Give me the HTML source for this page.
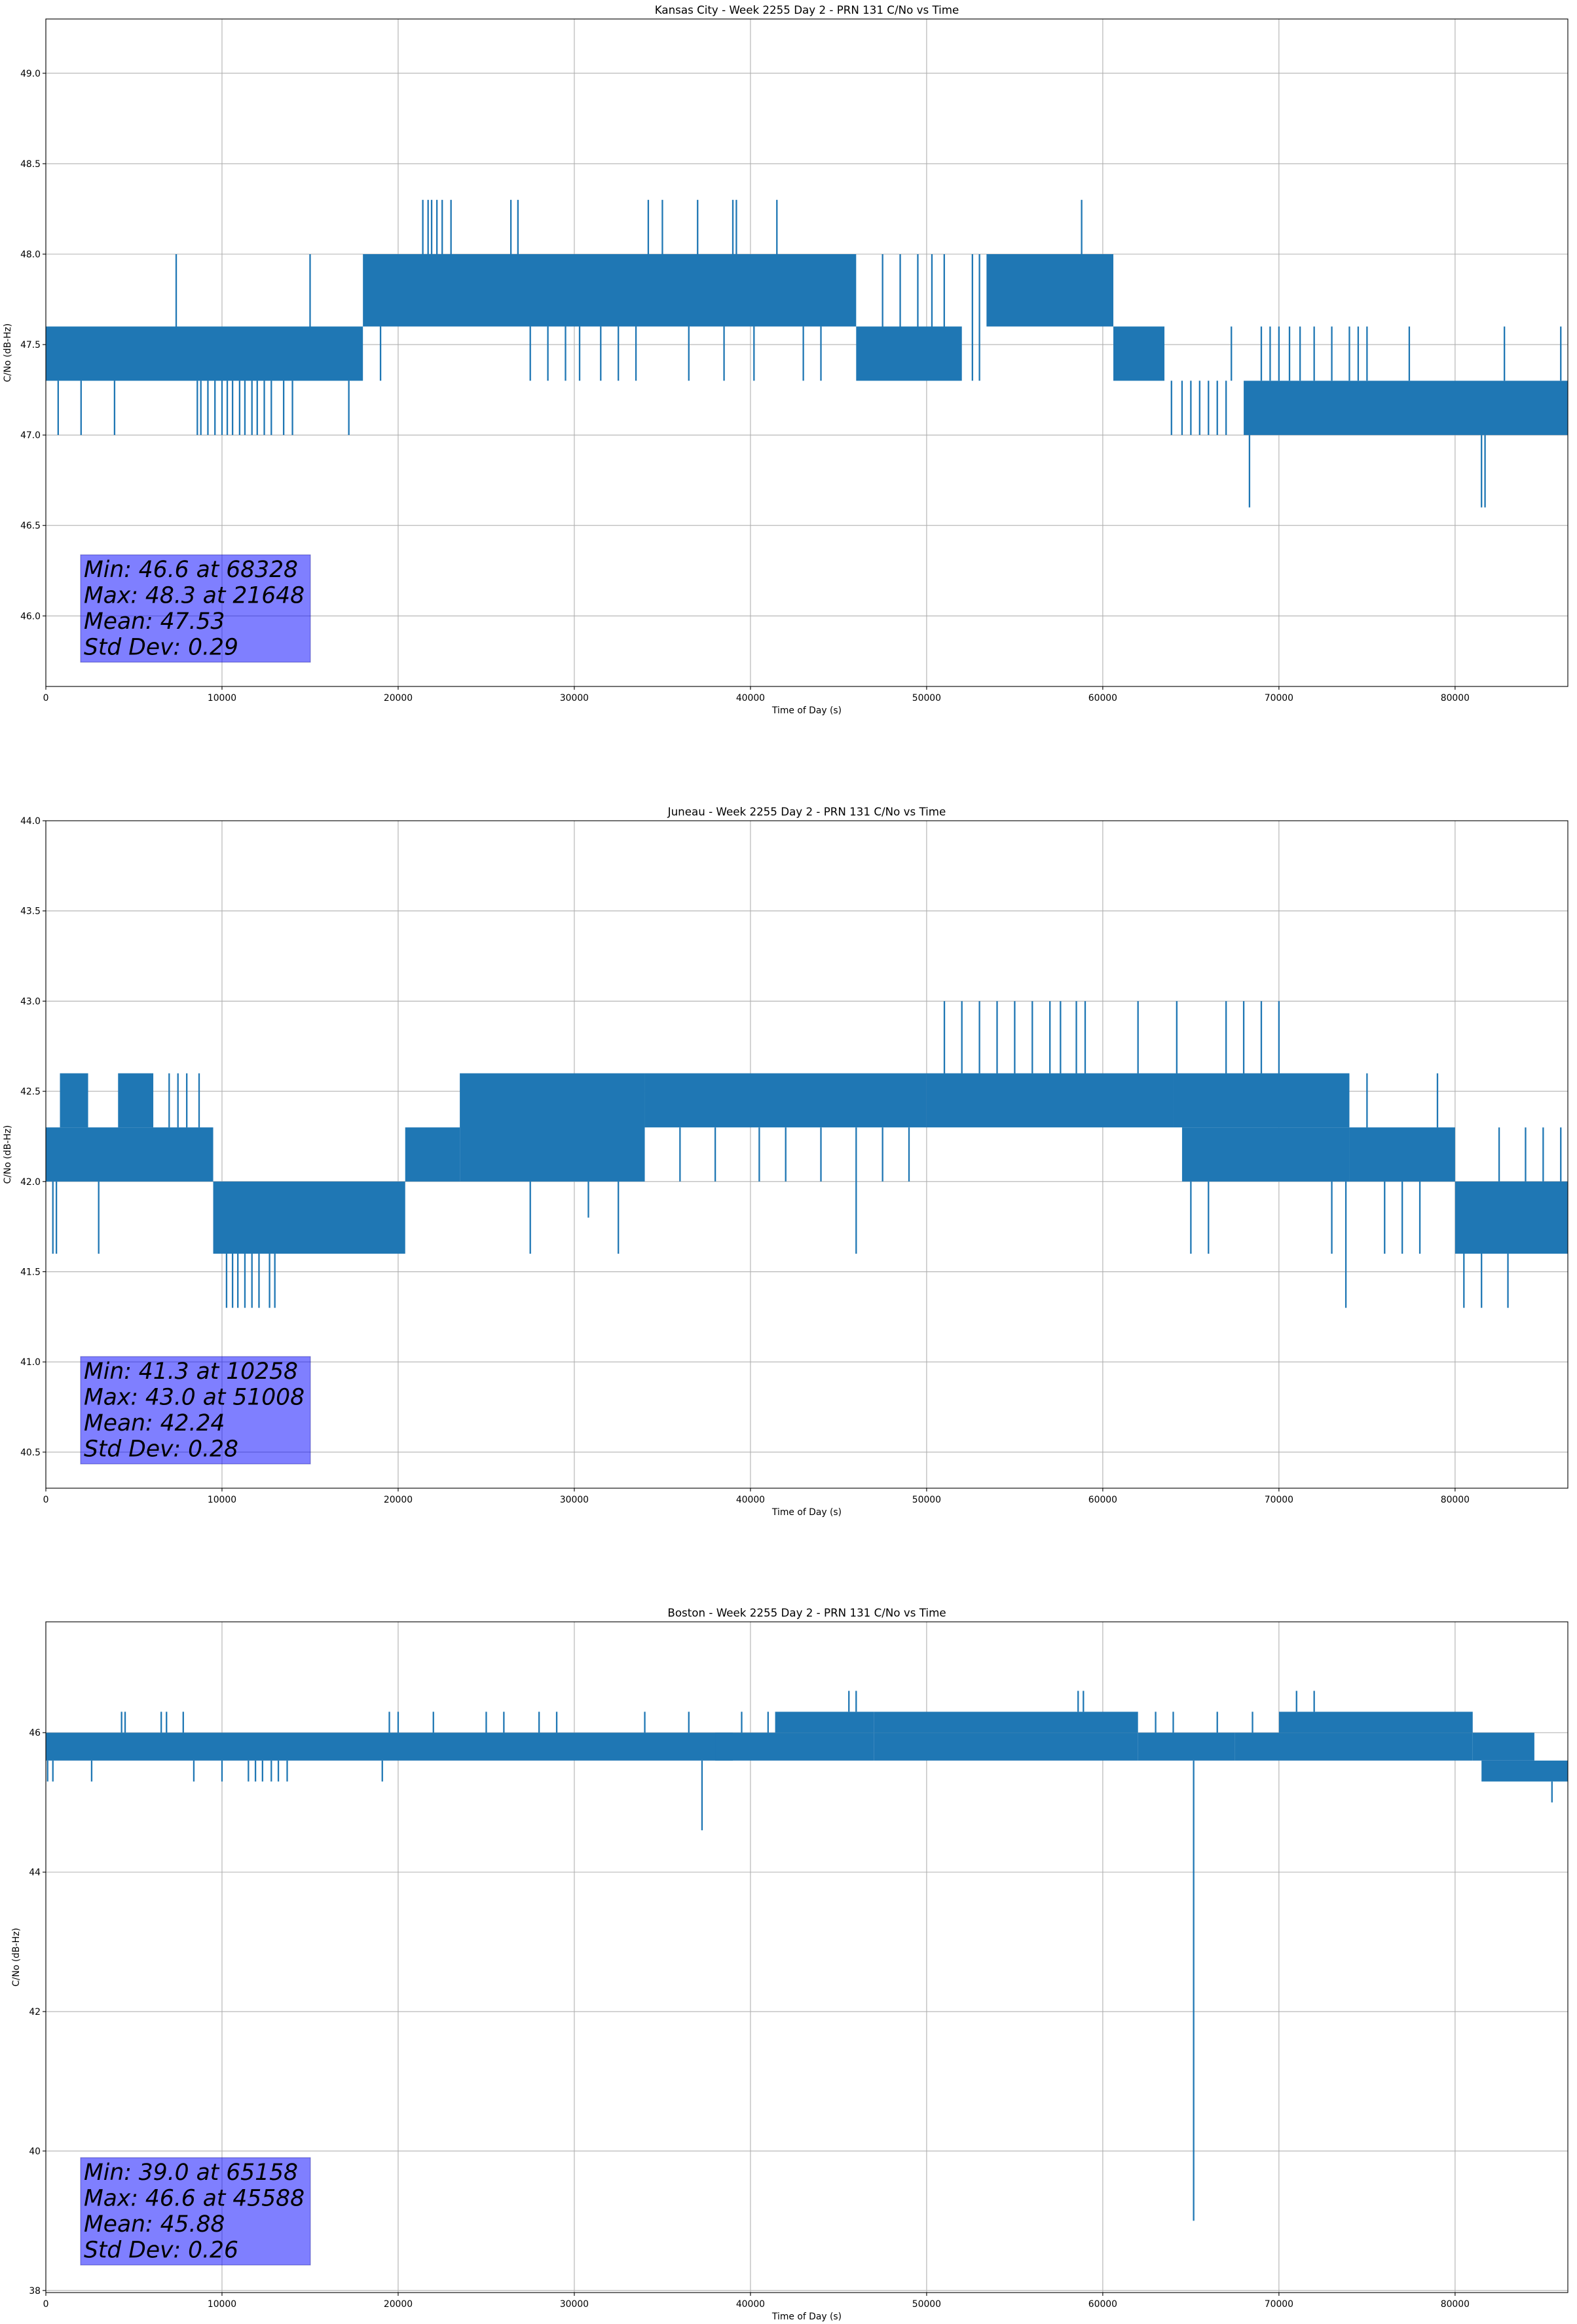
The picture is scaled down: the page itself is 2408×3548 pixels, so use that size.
<!DOCTYPE html>
<html><head><meta charset="utf-8"><title>PRN 131 C/No vs Time</title>
<style>
html,body{margin:0;padding:0;background:#fff;}
svg{display:block;font-family:"DejaVu Sans","Liberation Sans",sans-serif;}
</style></head>
<body>
<svg id="fig" width="2408" height="3548" viewBox="0 0 2408 3548" xmlns="http://www.w3.org/2000/svg"></svg>
<script>
// ---------- data ----------
const xTicks = [0,10000,20000,30000,40000,50000,60000,70000,80000];
const titles = ["Kansas City - Week 2255 Day 2 - PRN 131 C/No vs Time","Juneau - Week 2255 Day 2 - PRN 131 C/No vs Time","Boston - Week 2255 Day 2 - PRN 131 C/No vs Time"];
const yTicks1 = [46.0,46.5,47.0,47.5,48.0,48.5,49.0];
const yTicks2 = [40.5,41.0,41.5,42.0,42.5,43.0,43.5,44.0];
const yTicks3 = [38,40,42,44,46];
const stats1 = ["Min: 46.6 at 68328","Max: 48.3 at 21648","Mean: 47.53","Std Dev: 0.29"];
const stats2 = ["Min: 41.3 at 10258","Max: 43.0 at 51008","Mean: 42.24","Std Dev: 0.28"];
const stats3 = ["Min: 39.0 at 65158","Max: 46.6 at 45588","Mean: 45.88","Std Dev: 0.26"];
// bands: [tStart, tEnd, low, high] dense oscillation regions
const bandStart1 = [0,18000,46000,53400,60600,68000];
const bandEnd1   = [18000,46000,52000,60600,63500,86400];
const bandLow1   = [47.3,47.6,47.3,47.6,47.3,47.0];
const bandHigh1  = [47.6,48.0,47.6,48.0,47.6,47.3];
const spikeT1 = [700,2000,3900,7400,8600,8800,9200,9600,10000,10300,10600,11000,11300,11700,12000,12400,12800,13500,14000,15000,17200,18000,19000,21400,21700,21900,22200,22500,23000,26400,26800,27500,28500,29500,30300,31500,32500,33500,34200,35000,36500,37000,38500,39000,39200,40200,41500,43000,44000,47500,48500,49500,50300,51000,52600,53000,58800,62000,63000,63900,64500,65000,65500,66000,66500,67000,67300,68328,69000,69500,70000,70600,71200,72000,73000,74000,74500,75000,77400,81500,81700,82800,86000];
const spikeV1 = [47.0,47.0,47.0,48.0,47.0,47.0,47.0,47.0,47.0,47.0,47.0,47.0,47.0,47.0,47.0,47.0,47.0,47.0,47.0,48.0,47.0,47.3,47.3,48.3,48.3,48.3,48.3,48.3,48.3,48.3,48.3,47.3,47.3,47.3,47.3,47.3,47.3,47.3,48.3,48.3,47.3,48.3,47.3,48.3,48.3,47.3,48.3,47.3,47.3,48.0,48.0,48.0,48.0,48.0,48.0,48.0,48.3,47.3,47.3,47.0,47.0,47.0,47.0,47.0,47.0,47.0,47.6,46.6,47.6,47.6,47.6,47.6,47.6,47.6,47.6,47.6,47.6,47.6,47.6,46.6,46.6,47.6,47.6];

const bandStart2 = [0,800,4100,9500,20400,23500,34000,50000,64000,64500,74000,80000];
const bandEnd2   = [9500,2400,6100,20400,23500,34000,50000,64000,74000,74000,80000,86400];
const bandLow2   = [42.0,42.3,42.3,41.6,42.0,42.0,42.3,42.3,42.3,42.0,42.0,41.6];
const bandHigh2  = [42.3,42.6,42.6,42.0,42.3,42.6,42.6,42.6,42.6,42.3,42.3,42.0];
const spikeT2 = [400,600,3000,7000,7500,8000,8700,10258,10600,10900,11300,11700,12100,12700,13000,18000,24000,27500,30800,32500,33500,36000,38000,40500,42000,44000,46000,47500,49000,51008,52000,53000,54000,55000,56000,57000,57600,58500,59000,62000,64200,65000,66000,67000,68000,69000,70000,71000,72000,73000,73800,75000,76000,77000,78000,79000,80500,81500,82500,83000,84000,85000,86000];
const spikeV2 = [41.6,41.6,41.6,42.6,42.6,42.6,42.6,41.3,41.3,41.3,41.3,41.3,41.3,41.3,41.3,41.6,42.6,41.6,41.8,41.6,42.6,42.0,42.0,42.0,42.0,42.0,41.6,42.0,42.0,43.0,43.0,43.0,43.0,43.0,43.0,43.0,43.0,43.0,43.0,43.0,43.0,41.6,41.6,43.0,43.0,43.0,43.0,42.6,42.6,41.6,41.3,42.6,41.6,41.6,41.6,42.6,41.3,41.3,42.3,41.3,42.3,42.3,42.3];

const bandStart3 = [0,38000,41400,47000,47000,62000,67500,70000,81000,81500];
const bandEnd3   = [39000,47000,47000,62000,62000,67500,81000,81000,84500,86400];
const bandLow3   = [45.6,45.6,46.0,46.0,45.6,45.6,45.6,46.0,45.6,45.3];
const bandHigh3  = [46.0,46.0,46.3,46.3,46.0,46.0,46.0,46.3,46.0,45.6];
const spikeT3 = [100,400,2600,4300,4500,6550,6850,7800,8400,10000,11500,11900,12300,12800,13200,13700,19100,19500,20000,22000,25000,26000,28000,29000,34000,36500,37250,39500,41000,43500,45588,46000,58600,58900,63000,64000,65158,66500,68500,71000,72000,74000,79500,82500,85500];
const spikeV3 = [45.3,45.3,45.3,46.3,46.3,46.3,46.3,46.3,45.3,45.3,45.3,45.3,45.3,45.3,45.3,45.3,45.3,46.3,46.3,46.3,46.3,46.3,46.3,46.3,46.3,46.3,44.6,46.3,46.3,46.3,46.6,46.6,46.6,46.6,46.3,46.3,39.0,46.3,46.3,46.6,46.6,46.3,46.3,45.3,45.0];

// ---------- rendering ----------
const NS = "http://www.w3.org/2000/svg";
const svg = document.getElementById('fig');
const BLUE = "#1f77b4";
function mk(tag, attrs, parent){
  const e = document.createElementNS(NS, tag);
  for (const k in attrs) e.setAttribute(k, attrs[k]);
  (parent||svg).appendChild(e);
  return e;
}
const X0 = 70, X1 = 2394, TMAX = 86400;
function xScale(t){ return X0 + (t/TMAX)*(X1-X0); }

const panels = [
  {top:29, bot:1048, ymin:45.61, ymax:49.30, yt:yTicks1, fmt:1, stats:stats1, bs:bandStart1, be:bandEnd1, bl:bandLow1, bh:bandHigh1, st:spikeT1, sv:spikeV1, ylx:16},
  {top:1253, bot:2272, ymin:40.30, ymax:44.00, yt:yTicks2, fmt:1, stats:stats2, bs:bandStart2, be:bandEnd2, bl:bandLow2, bh:bandHigh2, st:spikeT2, sv:spikeV2, ylx:16},
  {top:2476, bot:3500, ymin:37.97, ymax:47.59, yt:yTicks3, fmt:0, stats:stats3, bs:bandStart3, be:bandEnd3, bl:bandLow3, bh:bandHigh3, st:spikeT3, sv:spikeV3, ylx:29}
];

panels.forEach((p, i) => {
  const g = mk('g', {});
  
  
  const yScale = v => p.bot - (v - p.ymin)/(p.ymax - p.ymin)*(p.bot - p.top);
  xTicks.forEach(t => {
    const l = mk('line', {x1:xScale(t), x2:xScale(t), y1:p.top, y2:p.bot, stroke:'#b0b0b0', 'stroke-width':1.1}, g);
    
    
  });
  p.yt.forEach(v => {
    const l = mk('line', {x1:X0, x2:X1, y1:yScale(v), y2:yScale(v), stroke:'#b0b0b0', 'stroke-width':1.1}, g);
    
    
  });
  const cp = mk('clipPath', {id:'clip'+i}, g);
  mk('rect', {x:X0, y:p.top, width:X1-X0, height:p.bot-p.top}, cp);
  const dg = mk('g', {'clip-path':'url(#clip'+i+')'}, g);
  
  
  p.bs.forEach((s, k) => {
    const r = mk('rect', {x:xScale(s), y:yScale(p.bh[k]), width:xScale(p.be[k])-xScale(s), height:yScale(p.bl[k])-yScale(p.bh[k]), fill:BLUE}, dg);
    
    
  });
  p.st.forEach((t, k) => {
    const v = p.sv[k];
    let base = null;
    for (let j = 0; j < p.bs.length; j++) {
      if (t >= p.bs[j] && t <= p.be[j]) {
        const ref = v >= p.bh[j] ? p.bh[j] : (v <= p.bl[j] ? p.bl[j] : null);
        if (ref !== null && (base === null || Math.abs(v-ref) < Math.abs(v-base))) base = ref;
      }
    }
    if (base === null) base = p.bl[0];
    const l = mk('line', {x1:xScale(t), x2:xScale(t), y1:yScale(base), y2:yScale(v), stroke:BLUE, 'stroke-width':2.3}, dg);
    
    
  });
  const fr = mk('rect', {x:X0, y:p.top, width:X1-X0, height:p.bot-p.top, fill:'none', stroke:'#000', 'stroke-width':1.1}, g);
  
  
  xTicks.forEach(t => {
    mk('line', {x1:xScale(t), x2:xScale(t), y1:p.bot, y2:p.bot+5, stroke:'#000', 'stroke-width':1.1}, g);
    const tx = mk('text', {x:xScale(t), y:p.bot+22, 'font-size':13.9, 'text-anchor':'middle', fill:'#000'}, g);
    tx.textContent = String(t);
    
    
  });
  p.yt.forEach(v => {
    mk('line', {x1:X0-5, x2:X0, y1:yScale(v), y2:yScale(v), stroke:'#000', 'stroke-width':1.1}, g);
    const tx = mk('text', {x:X0-8, y:yScale(v)+5, 'font-size':13.9, 'text-anchor':'end', fill:'#000'}, g);
    tx.textContent = v.toFixed(p.fmt);
    
    
  });
  const ti = mk('text', {x:(X0+X1)/2, y:p.top-8, 'font-size':16.7, 'text-anchor':'middle', fill:'#000'}, g);
  ti.textContent = titles[i];
  
  
  const xl = mk('text', {x:(X0+X1)/2, y:p.bot+41, 'font-size':13.9, 'text-anchor':'middle', fill:'#000'}, g);
  xl.textContent = 'Time of Day (s)';
  
  
  const cy = (p.top+p.bot)/2;
  const yl = mk('text', {x:p.ylx, y:cy, 'font-size':13.9, 'text-anchor':'middle', fill:'#000', transform:'rotate(-90 '+p.ylx+' '+cy+')'}, g);
  yl.textContent = 'C/No (dB-Hz)';
  
  
  const by = p.top + 818;
  const bx = mk('rect', {x:123, y:by, width:351, height:164, fill:'rgba(0,0,255,0.5)', stroke:'rgba(0,0,128,0.35)', 'stroke-width':1.2}, g);
  
  
  p.stats.forEach((s, k) => {
    const tx = mk('text', {x:128, y:by+34+k*39.5, 'font-size':34.5, 'font-style':'italic', fill:'#000'}, g);
    tx.textContent = s;
    
    
  });
});
</script>
</body></html>
